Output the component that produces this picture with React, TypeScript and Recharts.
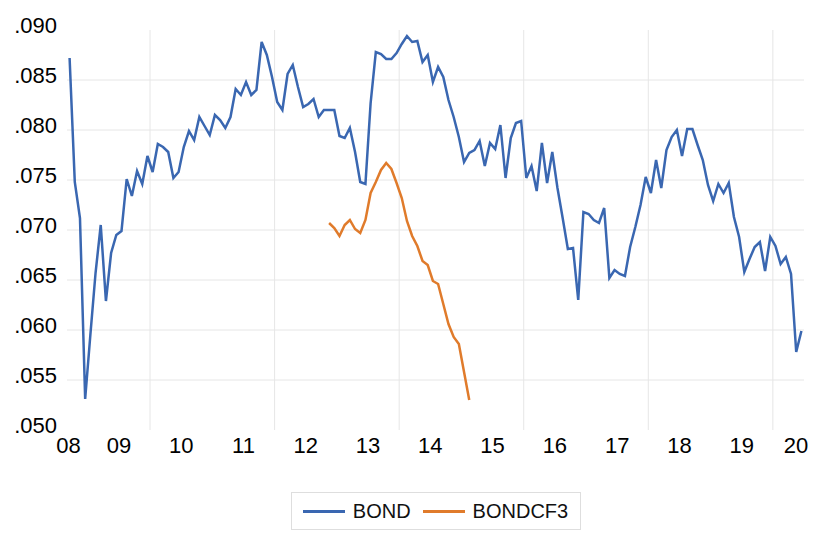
import { LineChart, Line, XAxis, YAxis, CartesianGrid, Legend } from "recharts";

// monthly observations, first one is 2008M09
const startYear = 2008;
const startMonth = 8;

const bond = [
	0.0872, 0.0748, 0.0712, 0.0531, 0.0595, 0.0657, 0.0705, 0.0629, 0.0677, 0.0695,
	0.0699, 0.0751, 0.0734, 0.0759, 0.0746, 0.0774, 0.0758, 0.0786, 0.0783, 0.0778,
	0.0752, 0.0758, 0.0783, 0.0799, 0.079, 0.0813, 0.0804, 0.0795, 0.0815, 0.081,
	0.0802, 0.0813, 0.0841, 0.0835, 0.0848, 0.0835, 0.084, 0.0888, 0.0875, 0.0853,
	0.0828, 0.082, 0.0856, 0.0865, 0.0843, 0.0823, 0.0826, 0.0831, 0.0813, 0.082,
	0.082, 0.082, 0.0794, 0.0792, 0.0802, 0.0778, 0.0748, 0.0746, 0.0827, 0.0878,
	0.0876, 0.0871, 0.0871, 0.0877, 0.0886, 0.0894, 0.0888, 0.0889, 0.0868, 0.0875,
	0.0848, 0.0863, 0.0853, 0.083, 0.0813, 0.0793, 0.0768, 0.0777, 0.078, 0.0789,
	0.0764, 0.0787, 0.0781, 0.0805, 0.0752, 0.0792, 0.0807, 0.0809, 0.0752, 0.0764,
	0.0739, 0.0787, 0.0747, 0.0778, 0.0742, 0.0712, 0.0681, 0.0682, 0.063, 0.0718,
	0.0716, 0.071, 0.0707, 0.0722, 0.0652, 0.066, 0.0656, 0.0654, 0.0683, 0.0703,
	0.0725, 0.0753, 0.0737, 0.077, 0.0742, 0.078, 0.0793, 0.08, 0.0774, 0.0801,
	0.0801, 0.0785, 0.077, 0.0745, 0.0729, 0.0746, 0.0737, 0.0747, 0.0713, 0.0693,
	0.0658, 0.0671, 0.0683, 0.0688, 0.0659, 0.0693, 0.0684, 0.0666, 0.0673, 0.0656,
	0.0578, 0.0599,
];

// BONDCF3 starts at the 51st month (2012M11)
const cf3Start = 50;
const bondcf3 = [
	0.0707, 0.0702, 0.0694, 0.0705, 0.071, 0.0701, 0.0697, 0.071, 0.0737, 0.0748,
	0.076, 0.0767, 0.0761, 0.0747, 0.0732, 0.0709, 0.0694, 0.0684, 0.0669, 0.0665,
	0.0649, 0.0646, 0.0626, 0.0606, 0.0593, 0.0586, 0.0558, 0.053,
];

const xTickLabels = ["08", "09", "10", "11", "12", "13", "14", "15", "16", "17", "18", "19", "20"];
const xTickValues = [
	2008.69, 2009.5, 2010.5, 2011.5, 2012.5, 2013.5, 2014.5, 2015.5, 2016.5, 2017.5,
	2018.5, 2019.5, 2020.37,
];
const xGridValues = [2010, 2012, 2014, 2016, 2018, 2020];
const yTicks = [0.05, 0.055, 0.06, 0.065, 0.07, 0.075, 0.08, 0.085, 0.09];
const yGridValues = [0.055, 0.06, 0.065, 0.07, 0.075, 0.08, 0.085];

const data = bond.map((v, i) => {
	const j = i - cf3Start;
	return {
		t: startYear + (startMonth + i + 0.5) / 12,
		BOND: v,
		BONDCF3: j >= 0 && j < bondcf3.length ? bondcf3[j] : null,
	};
});

const BLUE = "#3a67b1";
const ORANGE = "#e07b2b";
const FONT = "'Liberation Sans', Arial, sans-serif";

const fmtY = (v: number) => v.toFixed(3).replace(/^0/, "");
const fmtX = (v: number) => {
	const k = xTickValues.findIndex((p) => Math.abs(p - v) < 1e-6);
	return k >= 0 ? xTickLabels[k] : "";
};

const LegendBox = () => (
	<div
		style={{
			margin: "0 auto",
			width: 290,
			height: 38,
			boxSizing: "border-box",
			border: "1px solid #dedede",
			display: "flex",
			alignItems: "center",
			justifyContent: "center",
			fontFamily: FONT,
			fontSize: 20,
			color: "#111",
		}}
	>
		{[
			{ name: "BOND", color: BLUE },
			{ name: "BONDCF3", color: ORANGE },
		].map((s, k) => (
			<span key={s.name} style={{ display: "flex", alignItems: "center", marginLeft: k ? 12 : 0 }}>
				<span style={{ display: "inline-block", width: 42, height: 3, background: s.color, marginRight: 8 }} />
				{s.name}
			</span>
		))}
	</div>
);

const App = () => {
	return (
		<div style={{ position: "absolute", left: 0, top: 0, background: "#fff" }}>
			<LineChart
				width={819}
				height={540}
				data={data}
				margin={{ top: 30, right: 15, left: 0, bottom: 10 }}
				style={{ fontFamily: FONT }}
			>
				<CartesianGrid
					stroke="#e6e6e6"
					strokeWidth={1}
					horizontalValues={yGridValues}
					verticalValues={xGridValues}
				/>
				<XAxis
					dataKey="t"
					type="number"
					domain={[startYear + startMonth / 12, 2020.5]}
					ticks={xTickValues}
					interval={0}
					tickFormatter={fmtX}
					axisLine={false}
					tickLine={false}
					tickMargin={1}
					height={62}
					tick={{ fill: "#000", fontSize: 22 }}
					allowDataOverflow
				/>
				<YAxis
					type="number"
					domain={[0.05, 0.09]}
					ticks={yTicks}
					interval={0}
					tickFormatter={fmtY}
					axisLine={false}
					tickLine={false}
					tickMargin={4}
					width={67}
					tick={{ fill: "#000", fontSize: 22, dy: -5 }}
				/>
				<Legend
					verticalAlign="bottom"
					content={<LegendBox />}
					wrapperStyle={{ left: 67, width: 737 }}
				/>
				<Line
					type="linear"
					dataKey="BOND"
					stroke={BLUE}
					strokeWidth={2.5}
					dot={false}
					isAnimationActive={false}
				/>
				<Line
					type="linear"
					dataKey="BONDCF3"
					stroke={ORANGE}
					strokeWidth={2.5}
					dot={false}
					isAnimationActive={false}
				/>
			</LineChart>
		</div>
	);
};

export default App;
